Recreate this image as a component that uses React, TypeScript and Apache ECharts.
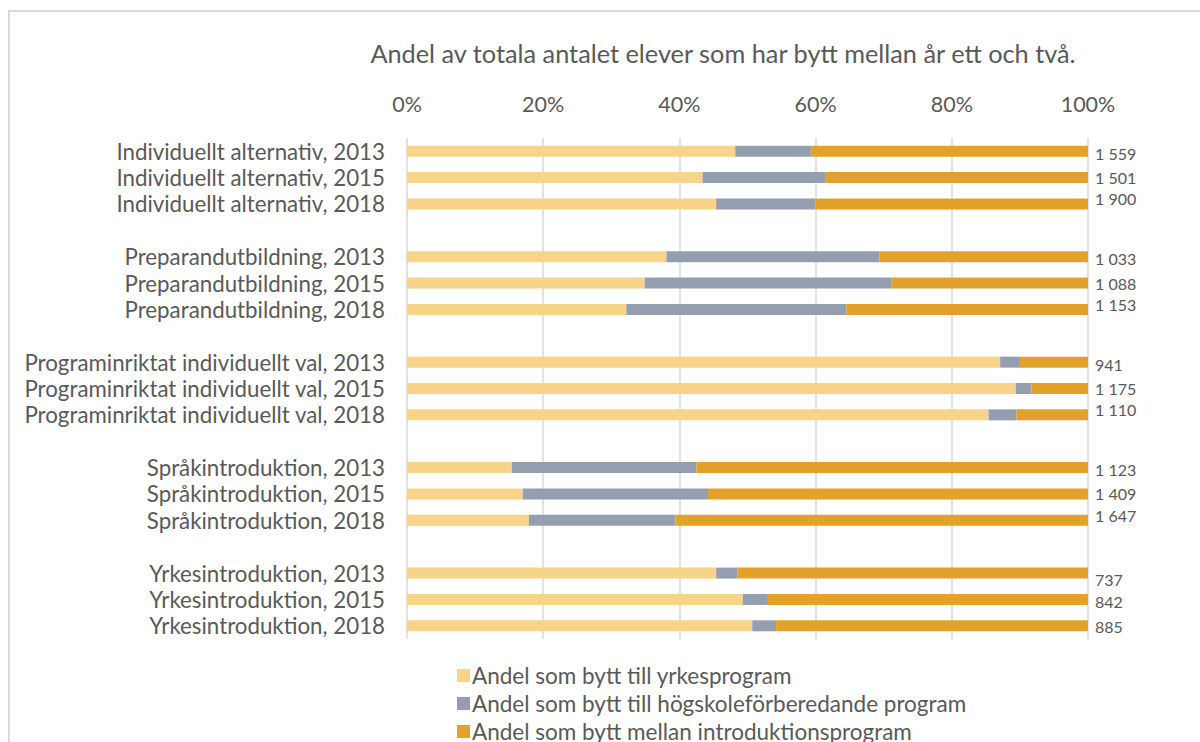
import React, { useEffect, useRef } from "react";
import * as echarts from "echarts";

const categories = [
  "Individuellt alternativ, 2013",
  "Individuellt alternativ, 2015",
  "Individuellt alternativ, 2018",
  " ",
  "Preparandutbildning, 2013",
  "Preparandutbildning, 2015",
  "Preparandutbildning, 2018",
  "  ",
  "Programinriktat individuellt val, 2013",
  "Programinriktat individuellt val, 2015",
  "Programinriktat individuellt val, 2018",
  "   ",
  "Språkintroduktion, 2013",
  "Språkintroduktion, 2015",
  "Språkintroduktion, 2018",
  "    ",
  "Yrkesintroduktion, 2013",
  "Yrkesintroduktion, 2015",
  "Yrkesintroduktion, 2018",
];

const seriesNames = [
  "Andel som bytt till yrkesprogram",
  "Andel som bytt till högskoleförberedande program",
  "Andel som bytt mellan introduktionsprogram",
];

// percent of total
const yrkes = [48.2, 43.4, 45.4, null, 38.1, 34.9, 32.2, null, 87.1, 89.4, 85.4, null, 15.4, 17.0, 17.9, null, 45.4, 49.3, 50.7];
const hogskole = [11.1, 18.1, 14.6, null, 31.3, 36.2, 32.3, null, 2.9, 2.3, 4.1, null, 27.1, 27.2, 21.5, null, 3.1, 3.7, 3.5];
const intro = [40.7, 38.5, 40.0, null, 30.6, 28.9, 35.5, null, 10.0, 8.3, 10.5, null, 57.5, 55.8, 60.6, null, 51.5, 47.0, 45.8];

const totals = [1559, 1501, 1900, null, 1033, 1088, 1153, null, 941, 1175, 1110, null, 1123, 1409, 1647, null, 737, 842, 885];

const tickLabels = ["0%", "20%", "40%", "60%", "80%", "100%"];

const FONT = "Lato";
const TEXT = "#595959";
const colors = ["#F8D38A", "#939FB0", "#E2A229"];

function fmt(n: number) {
  return String(n).replace(/\B(?=(\d{3})+(?!\d))/g, " ");
}

export default function App() {
  const ref = useRef<HTMLDivElement>(null);
  useEffect(() => {
    if (!ref.current) return;
    const chart = echarts.init(ref.current, undefined, { renderer: "svg" });
    const labelOffsets = categories.map((_, i) => {
      const group = Math.floor(i / 4);
      const pos = i % 4;
      if (group === 4) return [0, [6, 2, 1][pos] || 0];
      return [0, [2, 0, -5][pos] || 0];
    });
    const option: any = {
      animation: false,
      backgroundColor: "#ffffff",
      textStyle: { fontFamily: FONT },
      title: {
        text: "Andel av totala antalet elever som har bytt mellan år ett och två.",
        left: 718,
        textAlign: "center",
        top: 35,
        textStyle: { fontFamily: FONT, fontSize: 25.3, fontWeight: "normal", color: TEXT },
      },
      graphic: [
        {
          type: "rect",
          shape: { x: 9, y: 11, width: 1400, height: 900 },
          style: { fill: "none", stroke: "#D9D9D9", lineWidth: 2 },
          silent: true,
          z: -10,
        },
      ],
      legend: {
        orient: "vertical",
        left: 452,
        top: 659,
        height: 140,
        itemWidth: 13,
        itemHeight: 13,
        itemGap: 5,
        icon: "rect",
        textStyle: { fontFamily: FONT, fontSize: 22.5, color: TEXT, padding: [0, 0, 0, -3] },
        data: seriesNames,
      },
      grid: { left: 407, right: 112, top: 138, height: 501, containLabel: false },
      xAxis: {
        type: "value",
        position: "top",
        min: 0,
        max: 100,
        interval: 20,
        axisLine: { show: false },
        axisTick: { show: false },
        axisLabel: {
          fontFamily: FONT,
          fontSize: 21.5,
          color: TEXT,
          margin: 23,
          formatter: (v: number) => tickLabels[Math.round(v / 20)],
        },
        splitLine: { show: true, lineStyle: { color: "#D9D9D9", width: 1.5 } },
      },
      yAxis: {
        type: "category",
        inverse: true,
        data: categories,
        axisLine: { show: false },
        axisTick: { show: false },
        axisLabel: { interval: 0, fontFamily: FONT, fontSize: 22.3, color: TEXT, margin: 22 },
      },
      series: [
        { name: seriesNames[0], data: yrkes, color: colors[0] },
        { name: seriesNames[1], data: hogskole, color: colors[1] },
        {
          name: seriesNames[2],
          data: intro.map((v, i) => ({
            value: v,
            label: { offset: labelOffsets[i] },
          })),
          color: colors[2],
          label: {
            show: true,
            position: "right",
            distance: 7,
            fontFamily: FONT,
            fontSize: 16,
            color: TEXT,
            formatter: (p: any) => (totals[p.dataIndex] == null ? "" : fmt(totals[p.dataIndex] as number)),
          },
        },
      ].map((s) => ({
        ...s,
        type: "bar",
        stack: "total",
        barWidth: 11,
        itemStyle: { color: s.color },
        emphasis: { disabled: true },
      })),
    };
    chart.setOption(option);
    return () => chart.dispose();
  }, []);
  return (
    <div
      ref={ref}
      style={{ position: "absolute", left: 0, top: 0, width: 1200, height: 742 }}
    />
  );
}
